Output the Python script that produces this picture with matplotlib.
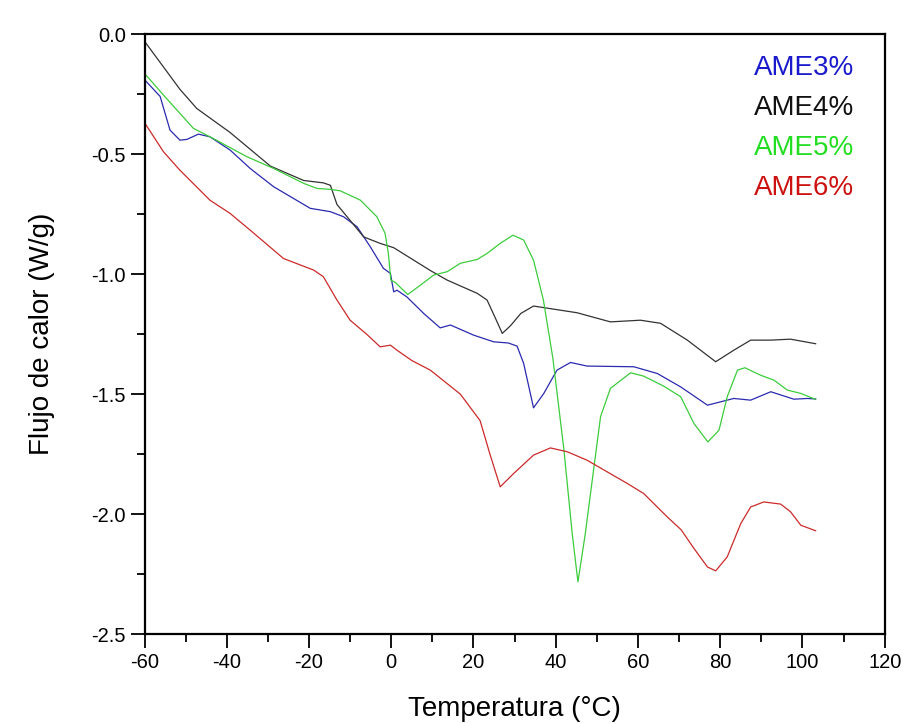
import matplotlib
matplotlib.use("Agg")
import matplotlib.pyplot as plt
from matplotlib.ticker import MultipleLocator

plt.rcParams['font.family'] = ['Liberation Sans', 'DejaVu Sans']
plt.rcParams['axes.unicode_minus'] = False

# DSC curves: temperature (°C) and heat flow (W/g)
t_ame3 = [-60, -56.2, -53.8, -51.4, -49.7, -46.9, -44.1, -39.2, -34.3, -28.6, -19.7, -14.8,
          -11.6, -8.3, -5.1, -1.9, -0.2, 0.6, 1.4, 3.8, 7.9, 11.9, 14.4, 20.0, 24.9, 28.5,
          30.6, 32.2, 34.6, 37.1, 40.3, 43.6, 47.6, 59.0, 64.7, 70.4, 76.9, 80.1, 83.3, 87.4,
          92.3, 97.9, 101.2, 103.2]
q_ame3 = [-0.19, -0.26, -0.40, -0.442, -0.439, -0.417, -0.428, -0.483, -0.56, -0.636, -0.726, -0.74,
          -0.761, -0.803, -0.886, -0.976, -0.997, -1.074, -1.067, -1.095, -1.164, -1.224, -1.212, -1.254, -1.282, -1.287,
          -1.30, -1.372, -1.557, -1.497, -1.40, -1.368, -1.383, -1.386, -1.414, -1.47, -1.546, -1.532, -1.518, -1.525,
          -1.49, -1.521, -1.518, -1.52]

t_ame4 = [-60, -51.4, -47.3, -39.2, -29.4, -21.3, -16.5, -14.8, -13.2, -6.7, -2.7, 0.6, 9.5, 13.6,
          20.9, 23.3, 25.5, 27.0, 29.0, 31.5, 34.6, 45.2, 53.3, 60.6, 65.5, 72.0, 78.9, 83.3, 87.4,
          92.3, 97.1, 103.2]
q_ame4 = [-0.03, -0.23, -0.31, -0.41, -0.55, -0.61, -0.62, -0.63, -0.71, -0.845, -0.872, -0.89, -0.985, -1.025,
          -1.08, -1.108, -1.19, -1.247, -1.215, -1.164, -1.133, -1.161, -1.199, -1.192, -1.205, -1.275, -1.365, -1.317, -1.275,
          -1.275, -1.271, -1.29]

t_ame5 = [-60, -55.4, -48.1, -43.3, -35.1, -28.6, -21.3, -18.1, -14.8, -12.4, -7.5, -3.5, -1.5, -0.7,
          -0.1, 1.0, 4.0, 7.1, 10.3, 13.6, 16.8, 20.9, 23.3, 26.5, 29.6, 32.2, 34.6, 37.0, 39.3,
          42.0, 44.0, 45.4, 47.2, 49.3, 50.9, 53.3, 58.2, 61.4, 66.3, 70.4, 73.6, 77.0, 79.7,
          81.7, 84.2, 86.0, 89.8, 93.1, 96.3, 99.6, 103.2]
q_ame5 = [-0.164, -0.254, -0.393, -0.435, -0.511, -0.56, -0.622, -0.643, -0.647, -0.653, -0.692, -0.761, -0.83, -0.914,
          -1.025, -1.035, -1.085, -1.046, -1.004, -0.99, -0.955, -0.939, -0.914, -0.872, -0.838, -0.858, -0.942, -1.108, -1.35,
          -1.733, -2.08, -2.282, -2.08, -1.803, -1.594, -1.476, -1.411, -1.425, -1.467, -1.511, -1.622, -1.699, -1.65,
          -1.511, -1.40, -1.39, -1.421, -1.442, -1.483, -1.497, -1.522]

t_ame6 = [-60, -55.4, -51.4, -44.1, -39.2, -34.3, -26.2, -18.9, -16.5, -13.2, -10.0, -6.0, -2.7, -0.2,
          1.4, 5.0, 9.5, 16.8, 21.6, 24.0, 26.5, 29.8, 34.6, 38.7, 42.8, 47.6, 57.4, 61.4, 67.1,
          70.5, 73.5, 76.9, 78.9, 81.7, 85.0, 87.4, 90.6, 94.7, 97.1, 99.6, 103.2]
q_ame6 = [-0.369, -0.49, -0.567, -0.692, -0.747, -0.817, -0.935, -0.983, -1.011, -1.108, -1.192, -1.25, -1.303, -1.296,
          -1.317, -1.36, -1.40, -1.50, -1.61, -1.75, -1.886, -1.83, -1.754, -1.724, -1.74, -1.775, -1.872, -1.914, -2.011,
          -2.065, -2.14, -2.22, -2.236, -2.178, -2.039, -1.97, -1.949, -1.958, -1.99, -2.046, -2.069]

labels = ["AME3%", "AME4%", "AME5%", "AME6%"]
colors = ["#2a2ab0", "#333333", "#3ccc3c", "#cc2a2a"]
text_colors = ["#1a1acc", "#111111", "#22dd22", "#cc1111"]

fig = plt.figure(figsize=(9.06, 7.24), dpi=100)
ax = fig.add_axes([0.1595, 0.124, 0.817, 0.829])

series = [(t_ame3, q_ame3), (t_ame4, q_ame4), (t_ame5, q_ame5), (t_ame6, q_ame6)]
for (t, q), c in zip(series, colors):
    ax.plot(t, q, color=c, linewidth=0.9)

# curve names stacked in the upper right
for i, (lab, c) in enumerate(zip(labels, text_colors)):
    ax.text(112.5, -0.171 - i * 0.166, lab, color=c, fontsize=20,
            ha="right", va="baseline")

ax.set_xlim(-60, 120)
ax.set_ylim(-2.5, 0.0)
ax.xaxis.set_major_locator(MultipleLocator(20))
ax.xaxis.set_minor_locator(MultipleLocator(10))
ax.yaxis.set_major_locator(MultipleLocator(0.5))
ax.yaxis.set_minor_locator(MultipleLocator(0.25))
ax.yaxis.set_major_formatter(plt.FormatStrFormatter("%.1f"))

ax.tick_params(which="major", direction="out", length=10, width=1.3, labelsize=14.5,
               top=False, right=False)
ax.tick_params(which="minor", direction="out", length=6, width=1.3, top=False, right=False)
for s in ax.spines.values():
    s.set_linewidth(1.6)

ax.set_xlabel("Temperatura (°C)", fontsize=20, labelpad=17)
ax.set_ylabel("Flujo de calor (W/g)", fontsize=20, labelpad=26)

fig.savefig("out.png", dpi=100)
